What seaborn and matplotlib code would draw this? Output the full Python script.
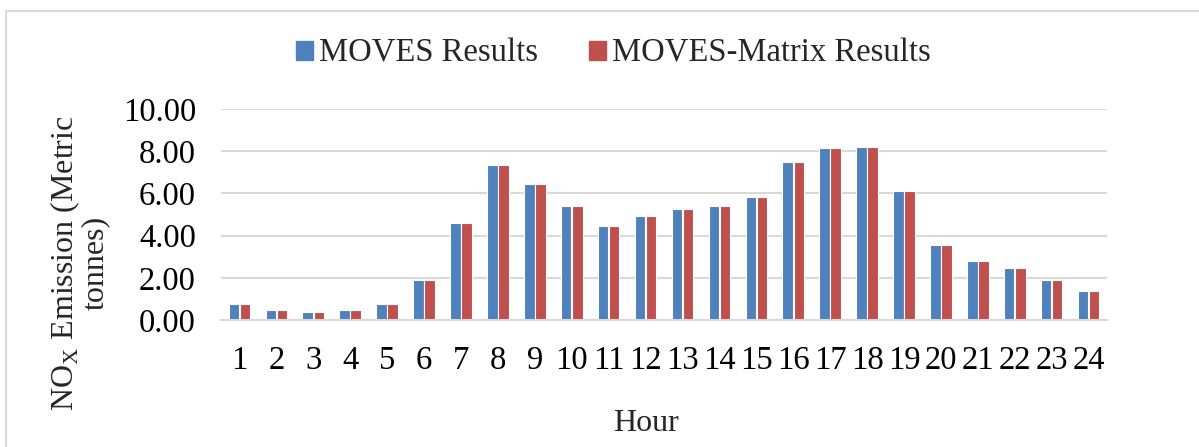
import matplotlib
matplotlib.use("Agg")
import matplotlib.pyplot as plt
from matplotlib.lines import Line2D
import pandas as pd
import seaborn as sns

# Data
hours = [str(h) for h in range(1, 25)]
moves = [0.76, 0.47, 0.38, 0.49, 0.74, 1.88, 4.60, 7.33, 6.43, 5.40, 4.47, 4.91,
         5.26, 5.39, 5.82, 7.47, 8.17, 8.20, 6.10, 3.57, 2.78, 2.45, 1.90, 1.36]
moves_matrix = [0.76, 0.47, 0.38, 0.49, 0.74, 1.88, 4.60, 7.33, 6.43, 5.40, 4.47, 4.91,
                5.26, 5.39, 5.82, 7.47, 8.17, 8.20, 6.10, 3.57, 2.78, 2.45, 1.90, 1.36]
series = ["MOVES Results", "MOVES-Matrix Results"]
colors = ["#4F81BD", "#C0504D"]

df = pd.DataFrame({
    "Hour": hours * 2,
    "Emission": moves + moves_matrix,
    "Series": [series[0]] * 24 + [series[1]] * 24,
})

sns.set_style("white")
plt.rcParams["font.family"] = ["Liberation Serif", "DejaVu Serif"]
plt.rcParams["mathtext.fontset"] = "custom"
plt.rcParams["mathtext.rm"] = "Liberation Serif"

fig = plt.figure(figsize=(11.99, 4.47), dpi=100)
ax = fig.add_axes([0.1843, 0.2841, 0.739, 0.472])

sns.barplot(data=df, x="Hour", y="Emission", hue="Series", order=hours,
            hue_order=series, palette=colors, width=0.6, gap=0.05,
            edgecolor="white", linewidth=0.8, saturation=1, ax=ax, legend=False)

ax.set_ylim(0, 10)
ax.set_xlim(-0.5, 23.5)
ax.set_yticks([0, 2, 4, 6, 8, 10])
ax.set_yticklabels([f"{v:.2f}" for v in [0, 2, 4, 6, 8, 10]])
ax.yaxis.grid(True, color="#D9D9D9", linewidth=1.5)
ax.set_axisbelow(True)
for s in ["left", "right", "top"]:
    ax.spines[s].set_visible(False)
ax.spines["bottom"].set_color("#D9D9D9")
ax.spines["bottom"].set_linewidth(1.5)
ax.tick_params(axis="both", length=0, labelsize=23.5, colors="black")
ax.tick_params(axis="x", pad=18)
ax.tick_params(axis="y", pad=18)

ax.set_xlabel("Hour", fontsize=23)
ax.xaxis.set_label_coords(0.48, -0.42)
ax.set_ylabel("NO$_{\\mathrm{X}}$ Emission (Metric\ntonnes)", fontsize=23,
              linespacing=0.95)
ax.yaxis.set_label_coords(-0.125, 0.27)

handles = [plt.Rectangle((0, 0), 1, 1, color=c) for c in colors]
fig.legend(handles, series, loc="center", bbox_to_anchor=(0.5117, 0.880),
           ncol=2, frameon=False, fontsize=23.5, handlelength=0.52,
           handleheight=0.52, handletextpad=0.18, columnspacing=1.56,
           borderpad=0, borderaxespad=0)

# light frame around the chart
fig.add_artist(Line2D([0.005, 0.005], [0, 0.975], color="#D9D9D9", lw=1.5))
fig.add_artist(Line2D([0.005, 1], [0.975, 0.975], color="#D9D9D9", lw=1.5))

fig.savefig("out.png", dpi=100)
